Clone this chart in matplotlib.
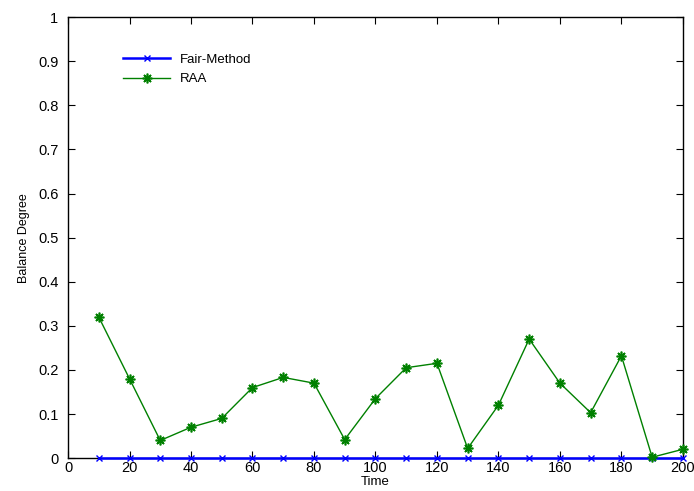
import matplotlib
matplotlib.use('Agg')
import matplotlib.pyplot as plt

plt.rcParams['font.family'] = ['Liberation Sans', 'DejaVu Sans']

# données
time = [10, 20, 30, 40, 50, 60, 70, 80, 90, 100,
        110, 120, 130, 140, 150, 160, 170, 180, 190, 200]
fair = [0] * 20
raa = [0.32, 0.18, 0.04, 0.07, 0.09, 0.16, 0.183, 0.17, 0.042, 0.135,
       0.205, 0.215, 0.022, 0.12, 0.27, 0.17, 0.103, 0.232, 0.002, 0.02]
xticks = list(range(0, 201, 20))
yticks = [0, 0.1, 0.2, 0.3, 0.4, 0.5, 0.6, 0.7, 0.8, 0.9, 1]
ylabels = ['0', '0.1', '0.2', '0.3', '0.4', '0.5', '0.6', '0.7', '0.8', '0.9', '1']

fig = plt.figure(figsize=(6.94, 4.91), dpi=100)
ax = fig.add_axes([0.098, 0.067, 0.886, 0.898])

ax.plot(time, fair, color='blue', marker='x', markersize=5, linewidth=1.8,
        label='Fair-Method', clip_on=False, zorder=3)
ax.plot(time, raa, color=(0, 0.5, 0), marker=(8, 2, 0), markersize=7,
        markeredgewidth=1.2, linewidth=1, label='RAA', clip_on=False, zorder=4)

ax.set_xlim(0, 200)
ax.set_ylim(0, 1)
ax.set_xticks(xticks)
ax.set_yticks(yticks)
ax.set_yticklabels(ylabels)
ax.tick_params(direction='in', length=5, top=True, right=True, labelsize=10.5)
ax.tick_params(axis='y', pad=7)
ax.tick_params(axis='x', pad=2)
for s in ax.spines.values():
    s.set_linewidth(1)

ax.set_xlabel('Time', fontsize=9.5, labelpad=1)
ax.set_ylabel('Balance Degree', fontsize=9, labelpad=6)

ax.legend(loc='upper left', bbox_to_anchor=(0.07, 0.944), frameon=False,
          fontsize=9.5, handlelength=3.6, handletextpad=0.7, labelspacing=0.55)

plt.savefig('out.png', dpi=100)
